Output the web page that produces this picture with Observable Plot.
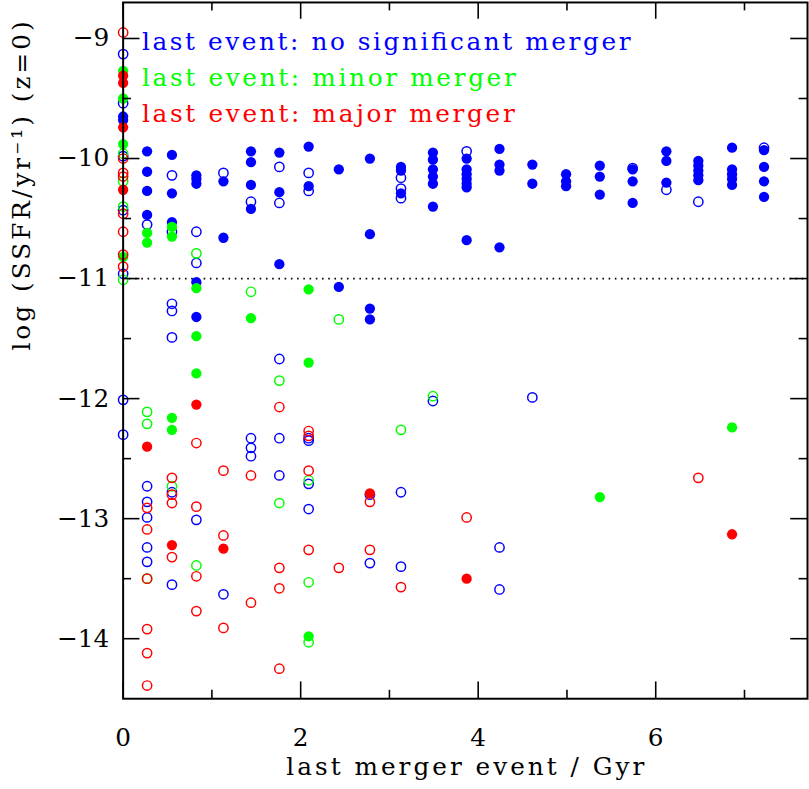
<!DOCTYPE html>
<html>
<head>
<meta charset="utf-8">
<script src="https://cdn.jsdelivr.net/npm/d3@7"></script>
<script src="https://cdn.jsdelivr.net/npm/@observablehq/plot@0.6"></script>
<style>
  html, body { margin: 0; padding: 0; background: #fff; overflow: hidden; }
  #chart svg { display: block; }
</style>
</head>
<body>
<div id="chart"></div>
<script>
// ---- data: [lookback time of last merger event (Gyr), log SSFR] ----
const noMergerFilled = [
  [0, -9.65], [0, -9.68],
  [0.27, -9.94], [0.27, -10.11], [0.27, -10.27], [0.27, -10.47],
  [0.55, -9.97], [0.55, -10.29], [0.55, -10.53],
  [0.825, -10.14], [0.825, -10.17], [0.825, -10.21], [0.825, -11.03], [0.825, -11.32],
  [1.13, -10.19], [1.13, -10.66],
  [1.44, -9.94], [1.44, -10.03], [1.44, -10.22], [1.44, -10.42],
  [1.76, -9.95], [1.76, -10.28], [1.76, -10.88],
  [2.09, -9.90], [2.09, -10.23],
  [2.43, -10.09], [2.43, -11.07],
  [2.78, -10.00], [2.78, -10.63], [2.78, -11.25], [2.78, -11.34],
  [3.13, -10.07], [3.13, -10.10], [3.13, -10.29],
  [3.49, -9.95], [3.49, -10.01], [3.49, -10.09], [3.49, -10.15], [3.49, -10.21], [3.49, -10.40],
  [3.87, -10.00], [3.87, -10.09], [3.87, -10.13], [3.87, -10.17], [3.87, -10.21], [3.87, -10.24], [3.87, -10.68],
  [4.24, -9.92], [4.24, -10.05], [4.24, -10.10], [4.24, -10.74],
  [4.61, -10.05], [4.61, -10.21],
  [4.99, -10.13], [4.99, -10.19], [4.99, -10.23],
  [5.37, -10.06], [5.37, -10.15], [5.37, -10.30],
  [5.74, -10.09], [5.74, -10.19], [5.74, -10.37],
  [6.12, -9.94], [6.12, -10.02], [6.12, -10.20],
  [6.48, -10.02], [6.48, -10.06], [6.48, -10.10], [6.48, -10.14], [6.48, -10.18],
  [6.86, -9.91], [6.86, -10.09], [6.86, -10.13], [6.86, -10.17], [6.86, -10.22],
  [7.22, -9.93], [7.22, -10.07], [7.22, -10.19], [7.22, -10.32]
];
const noMergerOpen = [
  [0, -9.13], [0, -9.54], [0, -9.98], [0, -10.43], [0, -10.96], [0, -12.01], [0, -12.30],
  [0.27, -10.55], [0.27, -12.73], [0.27, -12.86], [0.27, -12.99], [0.27, -13.24], [0.27, -13.36],
  [0.55, -10.14], [0.55, -10.61], [0.55, -11.21], [0.55, -11.27], [0.55, -11.49], [0.55, -12.78], [0.55, -13.55],
  [0.825, -10.61], [0.825, -10.87], [0.825, -13.01],
  [1.13, -10.12], [1.13, -13.63],
  [1.44, -10.36], [1.44, -12.33], [1.44, -12.41], [1.44, -12.48],
  [1.76, -10.07], [1.76, -10.37], [1.76, -11.67], [1.76, -12.33], [1.76, -12.64],
  [2.09, -10.12], [2.09, -10.27], [2.09, -12.33], [2.09, -12.35], [2.09, -12.71], [2.09, -12.92],
  [2.78, -12.80], [2.78, -13.37],
  [3.13, -10.16], [3.13, -10.25], [3.13, -10.33], [3.13, -12.78], [3.13, -13.40],
  [3.49, -12.02],
  [3.87, -9.94],
  [4.24, -13.24], [4.24, -13.59],
  [4.61, -11.99],
  [5.74, -10.08],
  [6.12, -10.26],
  [6.48, -10.36],
  [7.22, -9.91]
];
const minorFilled = [
  [0, -9.27], [0, -9.50], [0, -9.88], [0, -10.82],
  [0.27, -10.62], [0.27, -10.70],
  [0.55, -10.57], [0.55, -10.65], [0.55, -12.16], [0.55, -12.26],
  [0.825, -11.08], [0.825, -11.48], [0.825, -11.79],
  [1.44, -11.33],
  [2.09, -11.09], [2.09, -11.70], [2.09, -13.98],
  [5.37, -12.82],
  [6.86, -12.24]
];
const minorOpen = [
  [0, -9.96], [0, -10.19], [0, -10.40], [0, -11.01],
  [0.27, -12.11], [0.27, -12.21], [0.27, -13.50],
  [0.55, -12.73],
  [0.825, -10.79], [0.825, -13.39],
  [1.44, -11.11],
  [1.76, -11.85], [1.76, -12.87],
  [2.09, -12.68], [2.09, -13.53], [2.09, -14.03],
  [2.43, -11.34],
  [3.13, -12.26],
  [3.49, -11.98]
];
const majorFilled = [
  [0, -9.31], [0, -9.37], [0, -9.74], [0, -10.26],
  [0.27, -12.40],
  [0.55, -13.22],
  [0.825, -12.05],
  [1.13, -13.25],
  [2.78, -12.79],
  [3.87, -13.50],
  [6.86, -13.13]
];
const majorOpen = [
  [0, -8.95], [0, -10.00], [0, -10.12], [0, -10.15], [0, -10.46], [0, -10.61], [0, -10.80], [0, -10.90],
  [0.27, -12.91], [0.27, -13.09], [0.27, -13.50], [0.27, -13.92], [0.27, -14.12], [0.27, -14.39],
  [0.55, -12.66], [0.55, -12.80], [0.55, -12.87], [0.55, -13.32],
  [0.825, -12.37], [0.825, -12.90], [0.825, -13.48], [0.825, -13.77],
  [1.13, -12.60], [1.13, -13.14], [1.13, -13.91],
  [1.44, -12.64], [1.44, -13.70],
  [1.76, -12.07], [1.76, -13.41], [1.76, -13.58], [1.76, -14.25],
  [2.09, -12.27], [2.09, -12.31], [2.09, -12.60], [2.09, -13.26],
  [2.43, -13.41],
  [2.78, -12.86], [2.78, -13.26],
  [3.13, -13.57],
  [3.87, -12.99],
  [6.48, -12.66]
];

const legendLabels = ["last event: no significant merger", "last event: minor merger", "last event: major merger"];
const seriesColors = ["#0000ff", "#00ff00", "#ff0000"];
const xMajorTicks = [0, 2, 4, 6];
const xMinorTicks = [1, 3, 5, 7];
const yMajorTicks = [-14, -13, -12, -11, -10, -9];
const yMinorTicks = [-13.5, -12.5, -11.5, -10.5, -9.5];
const quenchLimit = [-11];
const xLabel = "last merger event / Gyr";
const yLabel = "log (SSFR/yr\u207B\u00B9) (z=0)";

// ---- layout / style ----
const W = 818, H = 789;
const mL = 124, mR = 2, mT = 2, mB = 83;
const fw = W - mL - mR, fh = H - mT - mB;
const majorLen = 17, minorLen = 8.5;
const font = "'DejaVu Serif', 'Liberation Serif', serif";
const fsText = 25, fsTick = 25;
const legendWidths = [494, 378, 377];
const xLabelWidth = 362, yLabelWidth = 333;

const groups = [
  {open: noMergerOpen, filled: noMergerFilled, color: seriesColors[0]},
  {open: minorOpen, filled: minorFilled, color: seriesColors[1]},
  {open: majorOpen, filled: majorFilled, color: seriesColors[2]}
];

const dotMarks = groups.flatMap(g => [
  Plot.dot(g.filled, {x: d => d[0], y: d => d[1], r: 5.2, fill: g.color, stroke: "none"}),
  Plot.dot(g.open, {x: d => d[0], y: d => d[1], r: 4.7, fill: "none", stroke: g.color, strokeWidth: 1.5})
]);

const tickStyle = {stroke: "black", strokeWidth: 1.6};
const fmt = d3.format("d");

const chart = Plot.plot({
  width: W, height: H,
  marginLeft: mL, marginRight: mR, marginTop: mT, marginBottom: mB,
  x: {domain: [0, 7.71]},
  y: {domain: [-14.5, -8.7]},
  style: {fontFamily: font, fontSize: fsText + "px", background: "white", color: "black"},
  marks: [
    Plot.ruleY(quenchLimit, {stroke: "black", strokeWidth: 1.8, strokeDasharray: "1.6,4.7"}),
    ...dotMarks,
    // inward ticks on all four sides
    Plot.tickY(yMajorTicks, {y: d => d, insetRight: fw - majorLen, ...tickStyle}),
    Plot.tickY(yMinorTicks, {y: d => d, insetRight: fw - minorLen, ...tickStyle}),
    Plot.tickY(yMajorTicks, {y: d => d, insetLeft: fw - majorLen, ...tickStyle}),
    Plot.tickY(yMinorTicks, {y: d => d, insetLeft: fw - minorLen, ...tickStyle}),
    Plot.tickX(xMajorTicks, {x: d => d, insetTop: fh - majorLen, ...tickStyle}),
    Plot.tickX(xMinorTicks, {x: d => d, insetTop: fh - minorLen, ...tickStyle}),
    Plot.tickX(xMajorTicks, {x: d => d, insetBottom: fh - majorLen, ...tickStyle}),
    Plot.tickX(xMinorTicks, {x: d => d, insetBottom: fh - minorLen, ...tickStyle}),
    Plot.frame({stroke: "black", strokeWidth: 2}),
    // tick labels
    Plot.axisX({anchor: "bottom", ticks: xMajorTicks, tickFormat: fmt, tickSize: 0, tickPadding: 30, label: null, fontSize: fsTick, fontFamily: font}),
    Plot.axisY({anchor: "left", ticks: yMajorTicks, tickFormat: fmt, tickSize: 0, tickPadding: 14, label: null, fontSize: fsTick, fontFamily: font}),
    // axis titles
    Plot.text([xLabel], {text: d => d, frameAnchor: "bottom", dy: 69, lineAnchor: "middle", fontSize: fsText, fontFamily: font, fill: "black"}),
    Plot.text([yLabel], {text: d => d, frameAnchor: "left", dx: -102, rotate: -90, lineAnchor: "middle", fontSize: fsText, fontFamily: font, fill: "black"}),
    // in-frame legend
    ...legendLabels.map((lab, i) => Plot.text([lab], {
      text: d => d, frameAnchor: "top-left", textAnchor: "start", lineAnchor: "bottom",
      dx: 19, dy: 48 + i * 36.5, fill: seriesColors[i], fontSize: fsText, fontFamily: font
    }))
  ]
});

// stretch the PGPLOT-style wide text to the widths seen in the original
const widthFor = new Map([
  ...legendLabels.map((l, i) => [l, legendWidths[i]]),
  [xLabel, xLabelWidth], [yLabel, yLabelWidth]
]);
chart.querySelectorAll("text").forEach(t => {
  const w = widthFor.get(t.textContent);
  if (w) {
    t.setAttribute("textLength", w);
    t.setAttribute("lengthAdjust", "spacing");
  }
});
document.getElementById("chart").appendChild(chart);
</script>
</body>
</html>
